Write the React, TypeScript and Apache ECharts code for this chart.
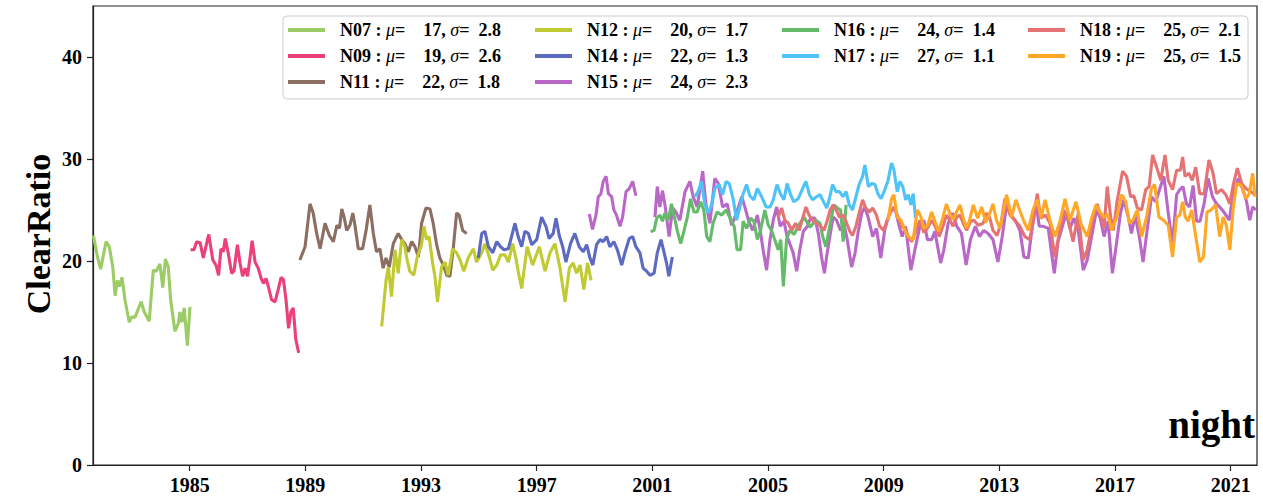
import React, { useEffect, useRef } from "react";
import * as echarts from "echarts";

// ---- satellite meta ----
const SAT_NAMES = ["N07", "N09", "N11", "N12", "N14", "N15", "N16", "N17", "N18", "N19"];
const SAT_COLORS = ["#9ccc65", "#ec407a", "#8d6e63", "#c0ca33", "#5c6bc0", "#ba68c8", "#66bb6a", "#4fc3f7", "#e57373", "#ffa726"];
const SAT_MU = [17, 19, 22, 20, 22, 24, 24, 27, 25, 25];
const SAT_SIGMA = [2.8, 2.6, 1.8, 1.7, 1.3, 2.3, 1.4, 1.1, 2.1, 1.5];

const LEGEND_COLUMNS = [["N07", "N09", "N11"], ["N12", "N14", "N15"], ["N16", "N17"], ["N18", "N19"]];

const X_TICKS = [1985, 1989, 1993, 1997, 2001, 2005, 2009, 2013, 2017, 2021];
const Y_TICKS = [0, 10, 20, 30, 40];

// ---- series values: [decimal year, clear ratio] ----
const n07 = [[1981.67,22.5],[1981.81,20.4],[1981.92,19.2],[1982.11,21.9],[1982.22,21.4],[1982.34,19.4],[1982.42,16.6],[1982.5,18.1],[1982.57,17.5],[1982.66,18.4],[1982.76,16.2],[1982.91,14.0],[1982.99,14.5],[1983.11,14.5],[1983.32,16.0],[1983.43,15.0],[1983.6,14.1],[1983.74,19.1],[1983.84,19.0],[1983.97,19.7],[1984.07,17.4],[1984.16,20.2],[1984.26,19.4],[1984.34,16.2],[1984.49,13.1],[1984.61,13.9],[1984.66,15.0],[1984.73,14.0],[1984.81,15.4],[1984.92,11.7],[1985.01,15.5]];

const n09 = [[1985.03,21.1],[1985.15,21.1],[1985.24,21.9],[1985.36,21.8],[1985.47,20.3],[1985.56,21.4],[1985.66,22.6],[1985.8,20.1],[1985.91,19.6],[1986.0,18.6],[1986.08,21.2],[1986.16,20.9],[1986.23,22.2],[1986.33,20.8],[1986.45,18.8],[1986.53,19.0],[1986.65,21.6],[1986.74,19.8],[1986.83,18.5],[1986.92,19.3],[1987.0,18.5],[1987.09,20.4],[1987.16,22.0],[1987.26,19.9],[1987.37,19.3],[1987.47,18.3],[1987.55,17.8],[1987.64,18.3],[1987.72,17.5],[1987.83,16.2],[1987.95,16.0],[1988.06,17.2],[1988.16,18.4],[1988.24,18.2],[1988.33,16.2],[1988.42,13.4],[1988.5,15.0],[1988.58,15.4],[1988.67,12.3],[1988.77,11.0]];

const n11 = [[1988.81,20.1],[1988.99,21.4],[1989.16,25.6],[1989.27,24.7],[1989.39,22.7],[1989.51,21.2],[1989.68,23.7],[1989.83,22.5],[1989.97,21.9],[1990.09,23.5],[1990.18,23.2],[1990.26,25.1],[1990.34,24.3],[1990.43,23.0],[1990.54,23.5],[1990.64,24.7],[1990.72,23.4],[1990.83,21.2],[1990.98,21.2],[1991.1,23.0],[1991.23,25.5],[1991.35,22.7],[1991.46,20.9],[1991.58,21.2],[1991.69,19.3],[1991.79,20.3],[1991.9,19.4],[1992.04,21.7],[1992.21,22.7],[1992.33,22.1],[1992.44,21.7],[1992.56,20.9],[1992.68,21.9],[1992.79,21.4],[1992.91,20.4],[1993.02,23.7],[1993.17,25.2],[1993.31,25.1],[1993.42,23.7],[1993.54,21.6],[1993.65,20.3],[1993.77,19.6],[1993.89,18.6],[1994.0,18.5],[1994.11,21.1],[1994.23,24.7],[1994.32,24.5],[1994.44,23.0],[1994.58,22.7]];

const n12 = [[1991.64,13.6],[1991.79,18.1],[1991.87,19.4],[1991.98,16.5],[1992.1,21.1],[1992.21,18.8],[1992.33,22.1],[1992.44,21.4],[1992.52,20.1],[1992.61,19.0],[1992.75,18.6],[1992.87,20.4],[1993.02,21.6],[1993.1,23.4],[1993.19,22.1],[1993.28,22.4],[1993.4,19.8],[1993.48,18.5],[1993.57,16.0],[1993.71,19.4],[1993.83,19.9],[1993.94,18.6],[1994.09,21.2],[1994.23,20.8],[1994.35,20.1],[1994.48,19.0],[1994.63,20.3],[1994.81,21.2],[1994.92,19.9],[1995.1,20.8],[1995.21,21.7],[1995.36,20.4],[1995.48,19.1],[1995.62,19.6],[1995.75,20.6],[1995.9,20.6],[1996.02,19.9],[1996.17,21.7],[1996.28,20.3],[1996.36,19.0],[1996.48,17.3],[1996.67,21.4],[1996.86,19.6],[1997.09,21.4],[1997.29,19.0],[1997.46,20.8],[1997.63,21.7],[1997.8,19.4],[1997.98,16.0],[1998.13,19.3],[1998.26,19.8],[1998.38,18.8],[1998.5,19.6],[1998.63,17.2],[1998.76,19.8],[1998.88,18.1]];

const n14 = [[1994.98,20.3],[1995.1,22.7],[1995.21,22.9],[1995.33,21.4],[1995.48,20.8],[1995.62,21.9],[1995.75,21.4],[1995.87,21.1],[1996.02,21.2],[1996.13,22.4],[1996.25,23.7],[1996.36,22.4],[1996.48,21.4],[1996.59,22.9],[1996.71,22.7],[1996.83,21.6],[1997.0,22.1],[1997.17,24.3],[1997.32,23.4],[1997.43,22.2],[1997.57,22.7],[1997.67,24.2],[1997.78,22.5],[1997.9,21.4],[1998.01,19.9],[1998.17,21.7],[1998.32,22.7],[1998.47,21.4],[1998.61,20.9],[1998.73,21.6],[1998.84,20.3],[1998.94,19.6],[1999.07,21.6],[1999.19,22.1],[1999.3,21.9],[1999.42,22.4],[1999.53,21.4],[1999.67,21.9],[1999.79,21.1],[1999.94,19.6],[2000.05,20.8],[2000.2,22.2],[2000.32,22.4],[2000.43,21.4],[2000.57,20.8],[2000.68,19.3],[2000.8,19.0],[2000.92,18.6],[2001.06,18.8],[2001.17,20.8],[2001.3,22.1],[2001.4,20.9],[2001.49,19.8],[2001.57,18.5],[2001.69,20.4]];

const n15 = [[1998.82,24.6],[1998.93,23.1],[1999.05,24.5],[1999.13,26.3],[1999.22,26.6],[1999.3,27.8],[1999.4,28.3],[1999.48,26.6],[1999.59,26.3],[1999.67,25.0],[1999.76,24.5],[1999.88,23.4],[1999.97,24.3],[2000.09,26.8],[2000.2,27.1],[2000.32,27.8],[2000.43,26.4],[2000.75,"-"],[2001.09,24.3],[2001.17,27.3],[2001.26,25.3],[2001.35,26.9],[2001.43,25.6],[2001.58,22.4],[2001.7,25.2],[2001.81,24.8],[2001.95,24.0],[2002.13,26.8],[2002.3,27.8],[2002.41,26.3],[2002.55,25.3],[2002.74,28.8],[2002.85,25.6],[2002.99,23.7],[2003.16,28.1],[2003.28,27.6],[2003.43,25.3],[2003.59,25.6],[2003.74,23.5],[2003.91,24.7],[2004.09,26.3],[2004.2,25.3],[2004.32,24.0],[2004.47,23.0],[2004.63,24.5],[2004.72,23.2],[2004.83,21.1],[2004.95,19.1],[2005.07,22.1],[2005.18,24.0],[2005.3,25.3],[2005.42,23.4],[2005.55,23.9],[2005.66,22.4],[2005.87,20.8],[2005.99,19.0],[2006.1,21.1],[2006.22,22.9],[2006.36,23.4],[2006.47,24.2],[2006.62,24.2],[2006.74,22.7],[2006.85,20.4],[2006.95,18.8],[2007.03,20.5],[2007.12,22.1],[2007.25,24.3],[2007.37,24.0],[2007.51,23.0],[2007.62,23.7],[2007.74,22.1],[2007.89,19.4],[2008.01,20.8],[2008.12,22.9],[2008.24,24.7],[2008.35,25.3],[2008.47,24.2],[2008.62,22.4],[2008.75,23.2],[2008.9,20.3],[2009.04,23.1],[2009.21,24.8],[2009.39,25.2],[2009.53,23.5],[2009.64,22.4],[2009.76,23.4],[2009.94,19.1],[2010.08,21.1],[2010.25,23.4],[2010.39,24.0],[2010.51,22.1],[2010.66,22.1],[2010.77,22.9],[2010.97,19.8],[2011.08,21.1],[2011.23,23.7],[2011.38,24.7],[2011.53,23.4],[2011.69,22.7],[2011.85,19.6],[2012.0,22.1],[2012.17,23.4],[2012.31,22.4],[2012.46,23.0],[2012.61,22.7],[2012.78,22.1],[2012.95,19.9],[2013.1,22.4],[2013.25,25.5],[2013.37,24.7],[2013.48,24.2],[2013.6,23.7],[2013.71,23.0],[2013.85,20.4],[2014.0,20.3],[2014.11,22.7],[2014.26,25.8],[2014.38,23.4],[2014.52,23.4],[2014.69,23.2],[2014.9,18.8],[2015.03,21.9],[2015.21,23.7],[2015.32,24.7],[2015.44,23.2],[2015.58,24.2],[2015.73,23.0],[2015.9,19.1],[2016.04,20.1],[2016.19,22.4],[2016.36,25.0],[2016.48,24.3],[2016.62,22.4],[2016.76,23.9],[2016.91,18.8],[2017.05,21.7],[2017.19,24.7],[2017.3,26.0],[2017.46,24.3],[2017.57,22.7],[2017.69,24.5],[2017.84,22.4],[2017.97,19.9],[2018.11,23.0],[2018.26,26.3],[2018.41,25.8],[2018.55,27.1],[2018.69,28.3],[2018.84,24.7],[2018.99,21.7],[2019.13,26.5],[2019.24,27.0],[2019.35,27.3],[2019.47,25.6],[2019.58,25.3],[2019.7,27.4],[2019.82,23.9],[2019.94,23.9],[2020.08,25.6],[2020.22,28.1],[2020.37,26.3],[2020.51,25.6],[2020.65,25.2],[2020.79,24.7],[2020.95,24.0],[2021.09,26.6],[2021.26,28.1],[2021.41,27.1],[2021.55,25.8],[2021.66,24.0],[2021.76,25.3],[2021.87,25.0]];

const n16 = [[2000.94,22.9],[2001.06,23.0],[2001.15,24.2],[2001.26,24.5],[2001.35,23.9],[2001.43,24.7],[2001.55,24.0],[2001.66,25.6],[2001.77,24.2],[2001.86,23.0],[2001.98,21.7],[2002.09,22.9],[2002.21,24.3],[2002.32,26.1],[2002.44,24.8],[2002.55,24.8],[2002.67,25.8],[2002.78,25.0],[2002.88,22.4],[2002.99,21.9],[2003.1,23.7],[2003.24,24.8],[2003.4,24.5],[2003.55,25.0],[2003.69,24.2],[2003.83,23.4],[2003.93,21.1],[2004.05,21.1],[2004.14,23.9],[2004.26,23.2],[2004.4,24.2],[2004.51,23.9],[2004.63,22.1],[2004.74,23.0],[2004.89,25.0],[2005.01,23.5],[2005.12,23.0],[2005.23,22.1],[2005.35,21.1],[2005.44,22.1],[2005.53,17.5],[2005.64,22.1],[2005.75,23.0],[2005.9,22.6],[2006.05,23.5],[2006.25,24.3],[2006.45,23.3],[2006.65,24.0],[2006.8,23.7],[2006.89,22.4],[2007.0,21.4],[2007.12,23.2],[2007.28,25.5],[2007.4,25.2],[2007.51,25.0],[2007.6,21.9],[2007.7,25.5]];

const n17 = [[2002.47,26.3],[2002.58,26.8],[2002.7,27.8],[2002.81,25.6],[2002.93,24.7],[2003.05,25.5],[2003.16,27.1],[2003.31,27.5],[2003.43,26.5],[2003.55,27.8],[2003.66,27.6],[2003.8,26.0],[2003.91,24.0],[2004.03,25.3],[2004.14,26.6],[2004.26,27.5],[2004.37,26.4],[2004.51,26.0],[2004.63,27.1],[2004.78,26.3],[2004.93,25.3],[2005.07,25.3],[2005.18,26.0],[2005.31,27.5],[2005.43,26.6],[2005.55,26.0],[2005.66,27.6],[2005.78,26.5],[2005.89,25.8],[2006.04,26.1],[2006.15,26.8],[2006.31,27.8],[2006.43,26.5],[2006.54,26.0],[2006.68,26.3],[2006.8,26.5],[2006.92,25.8],[2007.03,25.2],[2007.13,26.2],[2007.23,27.5],[2007.35,26.8],[2007.47,26.8],[2007.59,26.3],[2007.7,26.8],[2007.81,25.5],[2007.92,25.0],[2008.04,26.3],[2008.15,27.5],[2008.27,28.3],[2008.35,29.4],[2008.47,27.3],[2008.59,27.6],[2008.7,27.5],[2008.8,26.6],[2008.91,26.1],[2009.04,27.0],[2009.15,27.9],[2009.27,29.6],[2009.35,29.0],[2009.47,26.8],[2009.56,27.8],[2009.66,27.3],[2009.76,26.0],[2009.85,26.5],[2009.94,25.5],[2010.02,26.6],[2010.1,24.2]];

const n18 = [[2005.35,24.3],[2005.47,25.2],[2005.58,24.0],[2005.7,23.7],[2005.82,23.0],[2005.95,23.7],[2006.08,23.0],[2006.2,24.2],[2006.31,25.3],[2006.42,24.5],[2006.54,24.0],[2006.68,23.7],[2006.82,23.4],[2006.94,23.0],[2007.05,24.0],[2007.15,25.0],[2007.25,25.5],[2007.36,25.0],[2007.47,24.3],[2007.6,24.5],[2007.72,23.7],[2007.83,22.9],[2007.92,22.5],[2008.04,23.4],[2008.15,24.7],[2008.27,26.0],[2008.38,25.2],[2008.5,24.8],[2008.62,25.2],[2008.75,24.5],[2008.86,23.4],[2009.0,23.0],[2009.12,24.0],[2009.24,24.8],[2009.36,25.3],[2009.47,24.5],[2009.62,23.4],[2009.74,23.2],[2009.85,22.4],[2009.97,21.9],[2010.12,23.0],[2010.25,24.0],[2010.39,22.8],[2010.51,23.2],[2010.66,24.0],[2010.78,23.4],[2010.92,22.4],[2011.05,23.4],[2011.17,24.5],[2011.29,24.0],[2011.4,23.4],[2011.52,24.3],[2011.64,24.5],[2011.75,23.7],[2011.87,23.0],[2012.01,23.9],[2012.12,24.0],[2012.27,23.5],[2012.44,23.7],[2012.56,24.7],[2012.67,24.2],[2012.78,23.0],[2012.92,22.5],[2013.06,23.7],[2013.19,26.1],[2013.37,24.5],[2013.54,24.0],[2013.71,23.4],[2013.88,22.4],[2014.05,22.1],[2014.18,24.0],[2014.31,26.6],[2014.43,24.2],[2014.59,24.5],[2014.75,23.7],[2014.92,20.4],[2015.07,22.7],[2015.23,25.0],[2015.38,24.0],[2015.55,21.9],[2015.73,24.7],[2015.9,20.1],[2016.04,21.1],[2016.22,23.9],[2016.38,25.6],[2016.5,24.5],[2016.62,23.2],[2016.73,27.3],[2016.85,24.3],[2016.94,23.0],[2017.08,26.0],[2017.26,28.8],[2017.4,28.3],[2017.54,26.3],[2017.65,26.4],[2017.77,25.2],[2017.92,25.0],[2018.06,27.0],[2018.18,27.3],[2018.3,30.4],[2018.44,29.2],[2018.58,27.9],[2018.73,30.4],[2018.84,27.9],[2018.99,27.0],[2019.13,28.9],[2019.26,28.9],[2019.34,30.2],[2019.42,28.3],[2019.55,28.6],[2019.67,27.9],[2019.79,29.2],[2019.93,26.6],[2020.08,26.6],[2020.25,29.9],[2020.39,28.6],[2020.51,26.6],[2020.68,27.0],[2020.83,26.5],[2020.97,25.6],[2021.09,27.5],[2021.23,29.1],[2021.38,27.6],[2021.53,27.1],[2021.7,26.8],[2021.84,26.5]];

const n19 = [[2009.15,24.0],[2009.27,26.1],[2009.35,26.5],[2009.47,24.3],[2009.6,24.0],[2009.73,23.0],[2009.85,22.4],[2010.02,22.1],[2010.16,25.0],[2010.28,24.4],[2010.39,23.2],[2010.52,23.5],[2010.66,24.8],[2010.78,23.8],[2010.9,22.9],[2011.05,24.3],[2011.17,25.6],[2011.29,24.6],[2011.41,24.1],[2011.52,24.8],[2011.64,25.5],[2011.76,24.1],[2011.87,23.2],[2011.98,24.1],[2012.1,25.5],[2012.25,24.2],[2012.39,25.3],[2012.53,23.8],[2012.66,24.6],[2012.78,25.6],[2012.9,24.0],[2013.02,23.2],[2013.14,24.8],[2013.25,26.5],[2013.42,24.3],[2013.57,26.0],[2013.7,25.0],[2013.85,23.9],[2014.0,23.0],[2014.16,25.0],[2014.31,26.0],[2014.44,24.2],[2014.58,26.0],[2014.75,24.0],[2014.92,22.4],[2015.1,23.9],[2015.27,26.1],[2015.44,24.0],[2015.65,25.8],[2015.84,23.5],[2016.04,22.4],[2016.19,24.2],[2016.34,25.5],[2016.48,24.8],[2016.62,24.3],[2016.75,24.6],[2016.88,23.0],[2017.05,24.2],[2017.23,26.5],[2017.37,25.8],[2017.5,23.7],[2017.62,24.0],[2017.77,25.0],[2017.92,22.4],[2018.09,24.3],[2018.26,27.1],[2018.37,27.5],[2018.52,24.3],[2018.68,24.0],[2018.84,23.5],[2018.99,20.4],[2019.13,24.3],[2019.24,24.5],[2019.34,25.8],[2019.43,24.3],[2019.53,23.9],[2019.65,25.0],[2019.76,23.0],[2019.93,19.9],[2020.06,20.4],[2020.18,24.8],[2020.32,25.0],[2020.48,25.5],[2020.62,22.4],[2020.74,24.3],[2020.85,23.5],[2020.97,21.1],[2021.09,25.3],[2021.21,27.6],[2021.37,27.4],[2021.53,26.1],[2021.64,26.6],[2021.76,28.6],[2021.84,26.3]];

const SERIES_DATA = [n07, n09, n11, n12, n14, n15, n16, n17, n18, n19];

const X_MIN = 1981.656;
const X_MAX = 2021.91;
const Y_MIN = 0;
const Y_MAX = 45;

const FONT = "'Liberation Serif', 'Times New Roman', serif";

export default function App() {
  const ref = useRef<HTMLDivElement | null>(null);

  useEffect(() => {
    if (!ref.current) return;
    const chart = echarts.init(ref.current, null, { renderer: "svg" });
    const nb = "\u00a0";

    const legendFormatter = (name: string) => {
      const i = SAT_NAMES.indexOf(name);
      const mu = String(SAT_MU[i]);
      const sg = SAT_SIGMA[i].toFixed(1);
      return `{sp|}{b|${name}${nb}:${nb}}{i|μ}{b|=${nb}${nb}${nb}${nb}${mu},${nb}}{i|σ}{b|=${nb}${nb}${sg}}`;
    };

    const richStyles = {
      sp: { width: 10 },
      b: { fontFamily: FONT, fontWeight: "bold", fontSize: 18, color: "#000", lineHeight: 20 },
      i: { fontFamily: FONT, fontStyle: "italic", fontSize: 18, color: "#000", lineHeight: 20 },
    };

    const legendLefts = [288, 535, 782, 1028];

    const legends = LEGEND_COLUMNS.map((col, k) => ({
      show: true,
      orient: "vertical",
      left: legendLefts[k],
      top: 20,
      padding: 0,
      itemGap: 6,
      itemWidth: 37,
      itemHeight: 4,
      icon: "rect",
      selectedMode: false,
      z: 20,
      data: col,
      formatter: legendFormatter,
      textStyle: { rich: richStyles, lineHeight: 20 },
    }));

    const series = SAT_NAMES.map((name, i) => ({
      name,
      type: "line",
      data: SERIES_DATA[i],
      showSymbol: false,
      symbol: "none",
      connectNulls: false,
      lineStyle: { color: SAT_COLORS[i], width: 3.1 },
      itemStyle: { color: SAT_COLORS[i] },
      z: 2,
    }));

    chart.setOption({
      animation: false,
      backgroundColor: "#ffffff",
      grid: {
        left: 93,
        right: 6,
        top: 6,
        bottom: 35,
        show: true,
        borderColor: "#222",
        borderWidth: 1.2,
        backgroundColor: "transparent",
      },
      legend: legends,
      xAxis: {
        type: "value",
        min: X_MIN,
        max: X_MAX,
        axisLine: { show: true, lineStyle: { color: "#222", width: 1.2 } },
        axisTick: { show: true, customValues: X_TICKS, length: 6, lineStyle: { color: "#222", width: 1.2 } },
        axisLabel: {
          customValues: X_TICKS,
          formatter: (v: number) => String(Math.round(v)),
          fontFamily: FONT,
          fontWeight: "bold",
          fontSize: 20,
          color: "#000",
          margin: 10,
        },
        splitLine: { show: false },
      },
      yAxis: {
        type: "value",
        min: Y_MIN,
        max: Y_MAX,
        axisLine: { show: true, lineStyle: { color: "#222", width: 1.2 } },
        axisTick: { show: true, customValues: Y_TICKS, length: 6, lineStyle: { color: "#222", width: 1.2 } },
        axisLabel: {
          customValues: Y_TICKS,
          fontFamily: FONT,
          fontWeight: "bold",
          fontSize: 20,
          color: "#000",
          margin: 11,
        },
        splitLine: { show: false },
      },
      graphic: [
        {
          type: "rect",
          z: 10,
          shape: { x: 283, y: 16, width: 965, height: 83, r: 4 },
          style: { fill: "rgba(255,255,255,0.85)", stroke: "#cccccc", lineWidth: 1 },
        },
        {
          type: "text",
          z: 30,
          x: 38.5,
          y: 234,
          rotation: Math.PI / 2,
          style: {
            text: "ClearRatio",
            fontFamily: FONT,
            fontWeight: "bold",
            fontSize: 34,
            fill: "#000",
            align: "center",
            verticalAlign: "middle",
          },
        },
        {
          type: "text",
          z: 30,
          x: 1255,
          y: 424,
          style: {
            text: "night",
            fontFamily: FONT,
            fontWeight: "bold",
            fontSize: 39,
            fill: "#000",
            align: "right",
            verticalAlign: "middle",
          },
        },
      ],
      series,
    });

    return () => {
      chart.dispose();
    };
  }, []);

  return (
    <div
      ref={ref}
      style={{ position: "absolute", left: 0, top: 0, width: 1263, height: 500 }}
    />
  );
}
